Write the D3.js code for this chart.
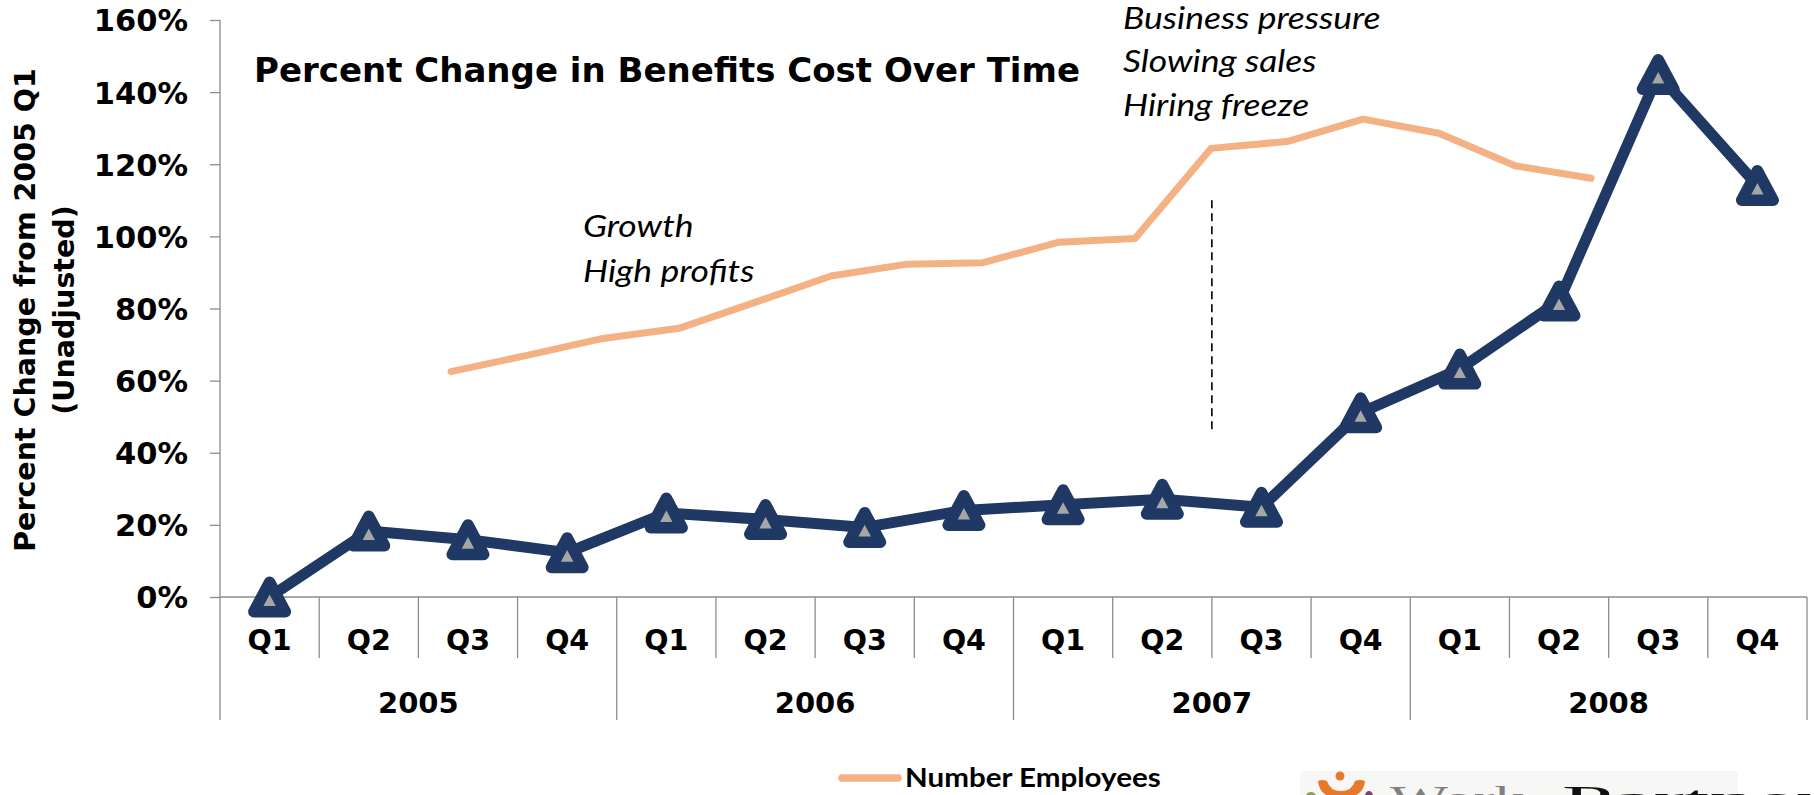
<!DOCTYPE html>
<html>
<head>
<meta charset="utf-8">
<script src="https://cdn.jsdelivr.net/npm/d3@7"></script>
<style>
  html, body { margin: 0; padding: 0; background: #ffffff; }
  svg { display: block; }
</style>
</head>
<body>
<svg id="chart" width="1814" height="795"></svg>
<script>
// Quarterly categories, grouped by year
const years = ["2005", "2006", "2007", "2008"];
const quarters = ["Q1", "Q2", "Q3", "Q4"];

// Percent change in benefits cost from 2005 Q1 (unadjusted)
const benefitsCost = [0, 18.3, 15.9, 12.3, 23.3, 21.5, 19.3, 24.0, 25.6, 27.1, 24.9, 51.1, 63.2, 82.1, 144.9, 114.1];

// Number of employees, percent scale
const employees = [62.5, 67, 71.7, 74.5, 81.7, 89, 92.3, 92.7, 98.4, 99.4, 124.4, 126.3, 132.5, 128.6, 119.6, 116.1];

// Y-axis ticks (percent)
const yTicks = [0, 20, 40, 60, 80, 100, 120, 140, 160];

// Text labels
const chartTitle = "Percent Change in Benefits Cost Over Time";
const yTitleLines = ["Percent Change from 2005 Q1", "(Unadjusted)"];
const growthNotes = ["Growth", "High profits"];
const pressureNotes = ["Business pressure", "Slowing sales", "Hiring freeze"];
const legendLabel = "Number Employees";

const svg = d3.select("#chart");
const W = 1814, H = 795;
svg.append("rect").attr("width", W).attr("height", H).attr("fill", "#ffffff");

const plot = { left: 220, right: 1807, top: 20, bottom: 597 };
const catRow1 = 61;   // depth of quarter label row
const catRow2 = 123;  // depth of year label row

const BLUE = "#1f3864", ORANGE = "#f4b183", AXIS = "#8c8c8c";
const boldFont = "'DejaVu Sans', Verdana, sans-serif";
const noteFont = "Lato, 'Open Sans', sans-serif";
const noteStretch = 1.145; // horizontal stretch for the narrow note lettering

const keys = [];
years.forEach(y => quarters.forEach(q => keys.push(y + "-" + q)));

const x = d3.scaleBand().domain(keys).range([plot.left, plot.right]).paddingInner(0).paddingOuter(0);
const y = d3.scaleLinear().domain([0, 160]).range([plot.bottom, plot.top]);
// Employee series runs on its own evenly spaced horizontal scale
const xe = d3.scaleLinear().domain([0, employees.length - 1]).range([plot.left + 231, plot.left + 1371]);

// ---- Y axis
const yAxis = d3.axisLeft(y).tickValues(yTicks).tickSize(10).tickPadding(22).tickFormat(d => d + "%");
const gy = svg.append("g").attr("transform", `translate(${plot.left},0)`).call(yAxis);
gy.select(".domain").remove();
gy.selectAll(".tick line").attr("stroke", AXIS).attr("stroke-width", 1.3);
gy.selectAll(".tick text")
  .attr("font-family", boldFont).attr("font-weight", "bold").attr("font-size", 30.5)
  .attr("fill", "#000").attr("dy", "0.36em");

// Axis lines
svg.append("line").attr("x1", plot.left).attr("x2", plot.left)
  .attr("y1", plot.top).attr("y2", plot.bottom + catRow2)
  .attr("stroke", AXIS).attr("stroke-width", 1.3);
svg.append("line").attr("x1", plot.left).attr("x2", plot.right)
  .attr("y1", y(0)).attr("y2", y(0))
  .attr("stroke", AXIS).attr("stroke-width", 1.3);

// ---- Multi-level category axis
const gx = svg.append("g");
keys.forEach((k, i) => {
  if (i === 0) return;
  const isYearEdge = i % quarters.length === 0;
  gx.append("line").attr("x1", x(k)).attr("x2", x(k))
    .attr("y1", y(0)).attr("y2", y(0) + (isYearEdge ? catRow2 : catRow1))
    .attr("stroke", AXIS).attr("stroke-width", 1.3);
});
gx.append("line").attr("x1", plot.right).attr("x2", plot.right)
  .attr("y1", y(0)).attr("y2", y(0) + catRow2)
  .attr("stroke", AXIS).attr("stroke-width", 1.3);

gx.selectAll("text.q").data(keys).join("text").attr("class", "q")
  .attr("x", d => x(d) + x.bandwidth() / 2).attr("y", y(0) + 53)
  .attr("text-anchor", "middle")
  .attr("font-family", boldFont).attr("font-weight", "bold").attr("font-size", 28.5)
  .text(d => d.split("-")[1]);

gx.selectAll("text.yr").data(years).join("text").attr("class", "yr")
  .attr("x", d => (x(d + "-Q1") + x(d + "-Q4") + x.bandwidth()) / 2)
  .attr("y", y(0) + 116)
  .attr("text-anchor", "middle")
  .attr("font-family", boldFont).attr("font-weight", "bold").attr("font-size", 29)
  .text(d => d);

// ---- Y axis title
const yTitle = svg.append("text")
  .attr("transform", "rotate(-90)")
  .attr("text-anchor", "middle")
  .attr("font-family", boldFont).attr("font-weight", "bold").attr("font-size", 28.5);
yTitleLines.forEach((t, i) => {
  yTitle.append("tspan").attr("x", -310).attr("y", 35 + i * 39).text(t);
});

// ---- Chart title
svg.append("text").attr("x", 254).attr("y", 82)
  .attr("font-family", boldFont).attr("font-weight", "bold").attr("font-size", 34)
  .text(chartTitle);

// ---- Employees line
const empLine = d3.line().x((d, i) => xe(i)).y(d => y(d));
svg.append("path").datum(employees).attr("d", empLine)
  .attr("fill", "none").attr("stroke", ORANGE).attr("stroke-width", 7)
  .attr("stroke-linecap", "round").attr("stroke-linejoin", "round");

// ---- Divider between periods
svg.append("line")
  .attr("x1", x("2007-Q3")).attr("x2", x("2007-Q3"))
  .attr("y1", y(110)).attr("y2", y(46))
  .attr("stroke", "#000").attr("stroke-width", 1.6).attr("stroke-dasharray", "8,5");

// ---- Benefits cost line with triangle markers
const costLine = d3.line().x((d, i) => x(keys[i]) + x.bandwidth() / 2).y(d => y(d));
svg.append("path").datum(benefitsCost).attr("d", costLine)
  .attr("fill", "none").attr("stroke", BLUE).attr("stroke-width", 11)
  .attr("stroke-linejoin", "round");

const tw = 31.5, th = 29.5;
const tri = `M0,${-th / 2}L${tw / 2},${th / 2}L${-tw / 2},${th / 2}Z`;
svg.append("g").selectAll("path").data(benefitsCost).join("path")
  .attr("d", tri)
  .attr("transform", (d, i) => `translate(${x(keys[i]) + x.bandwidth() / 2},${y(d)})`)
  .attr("fill", "#a6a6a6").attr("stroke", BLUE).attr("stroke-width", 11.5)
  .attr("stroke-linejoin", "round");

// ---- Annotations
const notes = svg.append("g").attr("font-family", noteFont).attr("font-style", "italic")
  .attr("font-size", 31).attr("fill", "#000");
function note(t, nx, ny) {
  notes.append("text").attr("transform", `translate(${nx},${ny}) scale(${noteStretch},1)`).text(t);
}
growthNotes.forEach((t, i) => note(t, 583, 237 + i * 44.5));
pressureNotes.forEach((t, i) => note(t, 1123, 29 + i * 43.4));

// ---- Legend
const lg = svg.append("g");
lg.append("line").attr("x1", 842).attr("x2", 898).attr("y1", 778).attr("y2", 778)
  .attr("stroke", ORANGE).attr("stroke-width", 7.5).attr("stroke-linecap", "round");
lg.append("text").attr("transform", `translate(905,787) scale(1.095,1)`)
  .attr("font-family", noteFont).attr("font-weight", "bold").attr("font-size", 27)
  .text(legendLabel);

// ---- Company logo (clipped at the bottom edge)
const logo = svg.append("g");
logo.append("rect").attr("x", 1300).attr("y", 771).attr("width", 438).attr("height", 30)
  .attr("fill", "#f7f7f5");
logo.append("circle").attr("cx", 1340).attr("cy", 776).attr("r", 4.5).attr("fill", "#e8792b");
logo.append("path")
  .attr("d", "M1318,781 Q1322,779 1327,781 Q1330,791 1341,791 Q1352,791 1355,781 Q1360,779 1365,781 Q1364,797 1341,800 Q1319,797 1318,781Z")
  .attr("fill", "#e8792b");
logo.append("ellipse").attr("cx", 1311).attr("cy", 796).attr("rx", 5).attr("ry", 4).attr("fill", "#8aa04a");
logo.append("ellipse").attr("cx", 1369).attr("cy", 796).attr("rx", 4).attr("ry", 5).attr("fill", "#8e3a6a");
logo.append("text").attr("x", 1390).attr("y", 811)
  .attr("font-family", "'Liberation Serif', 'DejaVu Serif', serif").attr("font-size", 36)
  .attr("fill", "#808080").attr("textLength", 135).attr("lengthAdjust", "spacingAndGlyphs")
  .text("Work");
logo.append("text").attr("x", 1562).attr("y", 811)
  .attr("font-family", "'Liberation Serif', 'DejaVu Serif', serif").attr("font-size", 36)
  .attr("fill", "#111111").attr("textLength", 300).attr("lengthAdjust", "spacingAndGlyphs")
  .text("Partners");
</script>
</body>
</html>
